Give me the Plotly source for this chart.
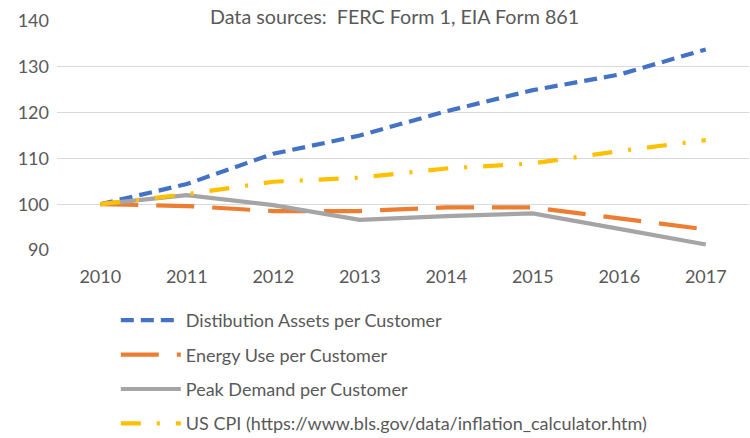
import plotly.graph_objects as go

years = [2010, 2011, 2012, 2013, 2014, 2015, 2016, 2017]
dist_assets = [100, 104.4, 111.0, 115.0, 120.3, 124.9, 128.3, 133.8]
energy_use = [100, 99.6, 98.5, 98.5, 99.3, 99.3, 96.9, 94.5]
peak_demand = [100, 102.0, 99.8, 96.6, 97.4, 98.0, 94.6, 91.2]
us_cpi = [100, 102.2, 104.9, 105.8, 107.8, 108.9, 111.6, 114.0]
y_ticks = [90, 100, 110, 120, 130, 140]

names = [
    "Distibution Assets per Customer",
    "Energy Use per Customer",
    "Peak Demand per Customer",
    "US CPI (https://www.bls.gov/data/inflation_calculator.htm)",
]
colors = ["#4472C4", "#ED7D31", "#A5A5A5", "#FFC000"]
dashes = ["13px,7px", "38px,18px", "solid", "20px,16px,3px,16px"]
series = [dist_assets, energy_use, peak_demand, us_cpi]

FONT = "Lato, Carlito, Calibri, sans-serif"
GREY = "#595959"

fig = go.Figure()
for i, (nm, col, ds, vals) in enumerate(zip(names, colors, dashes, series)):
    fig.add_trace(go.Scatter(
        x=years, y=vals, mode="lines", name=nm,
        line=dict(color=col, width=4.2, dash=ds),
        legendgroup=f"g{i}",
    ))

fig.update_layout(
    width=750, height=438,
    margin=dict(l=57, r=1, t=21, b=188, autoexpand=False),
    paper_bgcolor="white", plot_bgcolor="white",
    font=dict(family=FONT, color=GREY, size=18),
    showlegend=True,
    legend=dict(
        orientation="v", x=0.085, xanchor="left", y=-0.227, yanchor="top",
        font=dict(family=FONT, size=18, color=GREY),
        tracegroupgap=8, itemwidth=60, bgcolor="rgba(0,0,0,0)",
    ),
    annotations=[dict(
        text="Data sources:  FERC Form 1, EIA Form 861",
        x=(394 - 57) / 692, y=1 + (21 - 16) / 229, xref="paper", yref="paper",
        showarrow=False, xanchor="center", yanchor="middle",
        font=dict(family=FONT, size=19.7, color=GREY),
    )],
)

fig.update_xaxes(
    range=[2009.5, 2017.5], tickmode="array", tickvals=years,
    ticktext=[str(y) for y in years], showgrid=False, zeroline=False,
    showline=False, ticks="", ticklabelstandoff=14,
    tickfont=dict(family=FONT, size=18, color=GREY),
)
fig.update_yaxes(
    range=[90, 140], tickmode="array", tickvals=y_ticks,
    showgrid=True, gridcolor="#D9D9D9", gridwidth=1.2, zeroline=False,
    showline=False, ticks="", ticklabelstandoff=7,
    tickfont=dict(family=FONT, size=18, color=GREY),
)

fig.write_html(
    "out.html",
    config={"displayModeBar": False},
    post_script="document.body.style.margin='0';document.body.style.overflow='hidden';",
)
